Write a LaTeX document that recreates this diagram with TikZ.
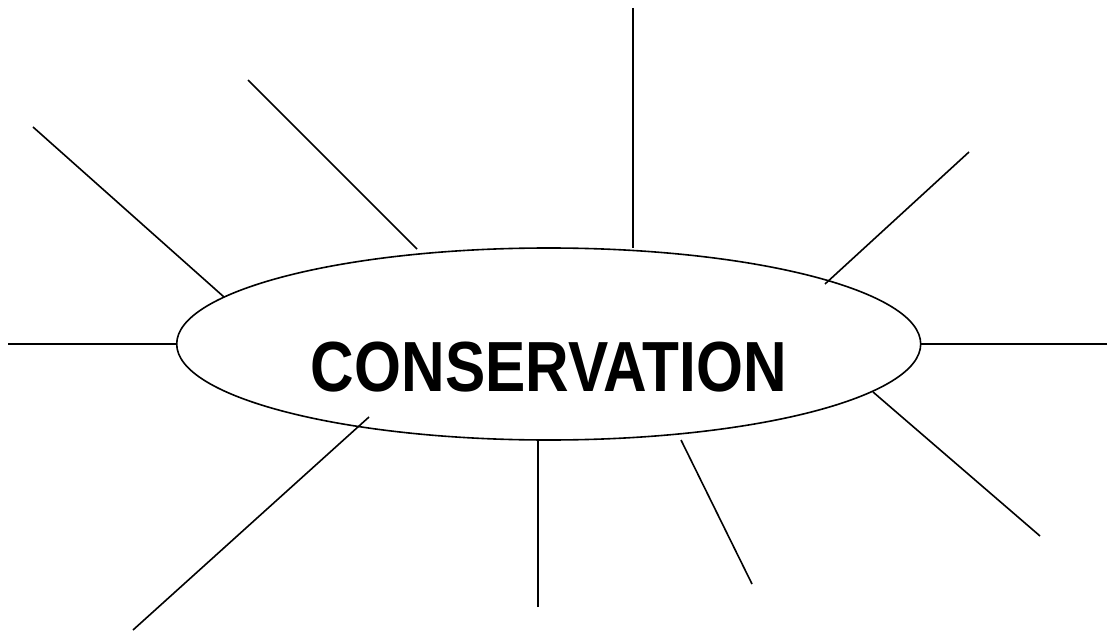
\documentclass[tikz,border=0pt]{standalone}
\usepackage{fontspec}
\setmainfont{Liberation Sans}
\usetikzlibrary{shapes.geometric}
\begin{document}
\begin{tikzpicture}[x=1pt,y=-1pt,
  spoke/.style={line width=1.6pt,black},
  oval/.style={draw,ellipse,line width=1.6pt,minimum width=744pt,minimum height=192pt,inner sep=0pt}]
\useasboundingbox (0,0) rectangle (1108,631);
\node[oval] (c) at (548.7,344) {};
\node[anchor=base,inner sep=0pt,xscale=0.85,font=\bfseries\fontsize{71}{80}\selectfont] (t) at (549,391) {CONSERVATION};
% spoke ends
\coordinate (a1) at (33,127);   \coordinate (b1) at (224,297);
\coordinate (a2) at (248,80);   \coordinate (b2) at (417,249);
\coordinate (a3) at (633,8);    \coordinate (b3) at (633,248);
\coordinate (a4) at (969,152);  \coordinate (b4) at (825,284);
\coordinate (a5) at (8,344);    \coordinate (b5) at (177,344);
\coordinate (a6) at (1107,344); \coordinate (b6) at (921,344);
\coordinate (a7) at (1040,536); \coordinate (b7) at (873,392);
\coordinate (a8) at (133,630);  \coordinate (b8) at (369,417);
\coordinate (a9) at (538,607);  \coordinate (b9) at (538,440);
\coordinate (a10) at (752,584); \coordinate (b10) at (681,440);
\foreach \i in {1,...,10} {\draw[spoke] (a\i) -- (b\i);}
\end{tikzpicture}
\end{document}
